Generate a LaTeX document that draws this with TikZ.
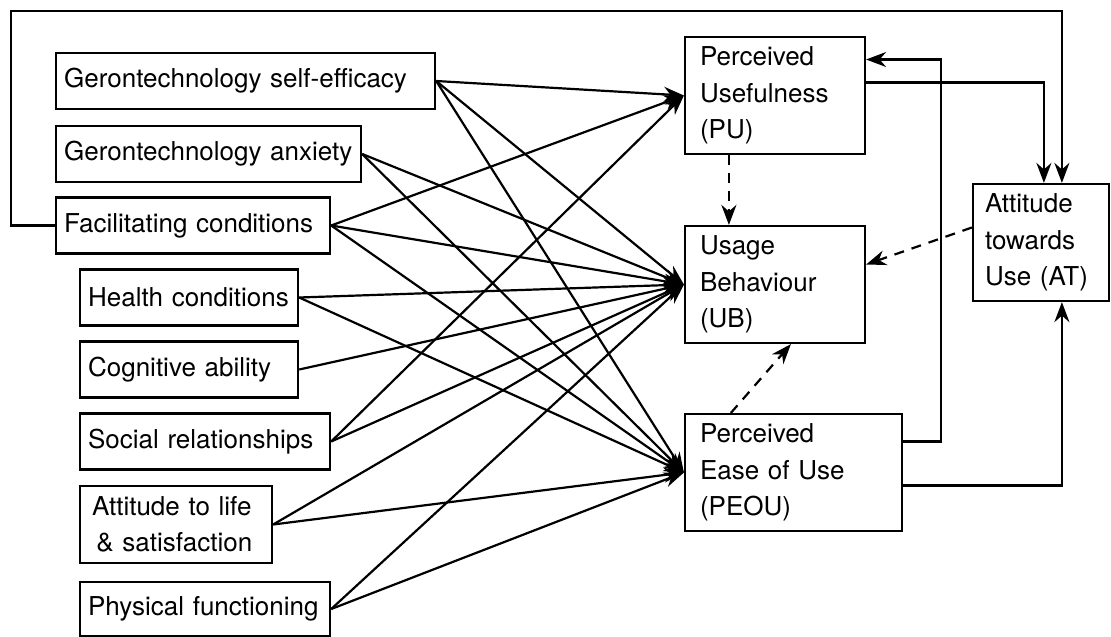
\documentclass[tikz,border=0pt]{standalone}
\usepackage{fontspec}
\setmainfont{TeX Gyre Heros}
\usetikzlibrary{arrows.meta}
\tikzset{
  factor/.style={draw, line width=2.2pt, inner xsep=8pt, minimum height=56pt, align=left, anchor=west},
  construct/.style={draw, line width=2.2pt, inner xsep=15pt, minimum height=117pt, align=left},
  dashlink/.style={dash pattern=on 10pt off 8pt},
}
\begin{document}
\begin{tikzpicture}[x=1pt, y=-1pt, >={Stealth[length=20pt,width=15pt]}, line width=2.2pt, font=\fontsize{26}{36.5}\selectfont]
\useasboundingbox (0,0) rectangle (1111,637);

\node[factor, text width=363pt] (se) at (55,81) {Gerontechnology self-efficacy};
\node[factor, text width=289pt] (anx) at (55,154) {Gerontechnology anxiety};
\node[factor, text width=258pt] (fc) at (55,225.5) {Facilitating conditions};
\node[factor, text width=202pt] (hc) at (79,297.5) {Health conditions};
\node[factor, text width=202pt] (ca) at (79,369.5) {Cognitive ability};
\node[factor, minimum height=77pt, inner xsep=12pt, text width=168pt] (al) at (79,524.5) {Attitude to life\\\,\& satisfaction};
\node[factor, text width=234pt] (sr) at (79,441.5) {Social relationships};
\node[factor, text width=234pt, minimum height=54pt] (pf) at (79,609) {Physical functioning};

\node[construct, text width=150pt] (pu) at (775,95.5) {Perceived\\Usefulness\\(PU)};
\node[construct, text width=150pt] (ub) at (775,284.5) {Usage\\Behaviour\\(UB)};
\node[construct, text width=187pt] (peou) at (793.5,472.5) {Perceived\\Ease of Use\\(PEOU)};
\node[construct, text width=112pt, inner xsep=12pt] (at) at (1041,242.5) {Attitude\\towards\\Use (AT)};

% factors to the three constructs
\draw[->] (se.east) -- (pu.west);
\draw[->] (se.east) -- (ub.west);
\draw[->] (se.east) -- (peou.west);
\draw[->] (anx.east) -- (ub.west);
\draw[->] (anx.east) -- (peou.west);
\draw[->] (fc.east) -- (pu.west);
\draw[->] (fc.east) -- (ub.west);
\draw[->] (fc.east) -- (peou.west);
\draw[->] (hc.east) -- (ub.west);
\draw[->] (hc.east) -- (peou.west);
\draw[->] (ca.east) -- (ub.west);
\draw[->] (sr.east) -- (pu.west);
\draw[->] (sr.east) -- (ub.west);
\draw[->] (al.east) -- (ub.west);
\draw[->] (al.east) -- (peou.west);
\draw[->] (pf.east) -- (ub.west);
\draw[->] (pf.east) -- (peou.west);

% dashed links into usage
\draw[->, dashlink] ([xshift=45pt]pu.south west) -- ([xshift=45pt]ub.north west);
\draw[->, dashlink] ([yshift=15pt]at.west) -- ([yshift=20pt]ub.east);
\draw[->, dashlink] ([xshift=47pt]peou.north west) -- ([xshift=107pt]ub.south west);

% attitude paths
\draw[->] ([yshift=13pt]pu.east) -| ([xshift=72pt]at.north west);
\draw[->] ([yshift=31pt]peou.east) -- ++(38pt,0) |- ([yshift=36pt]pu.east);
\draw[->] ([yshift=-13pt]peou.east) -| ([xshift=90pt]at.south west);
\draw[->] (fc.west) -- ++(-44pt,0) |- ([xshift=90pt,yshift=172pt]at.north west) -- ([xshift=90pt]at.north west);
\end{tikzpicture}
\end{document}
